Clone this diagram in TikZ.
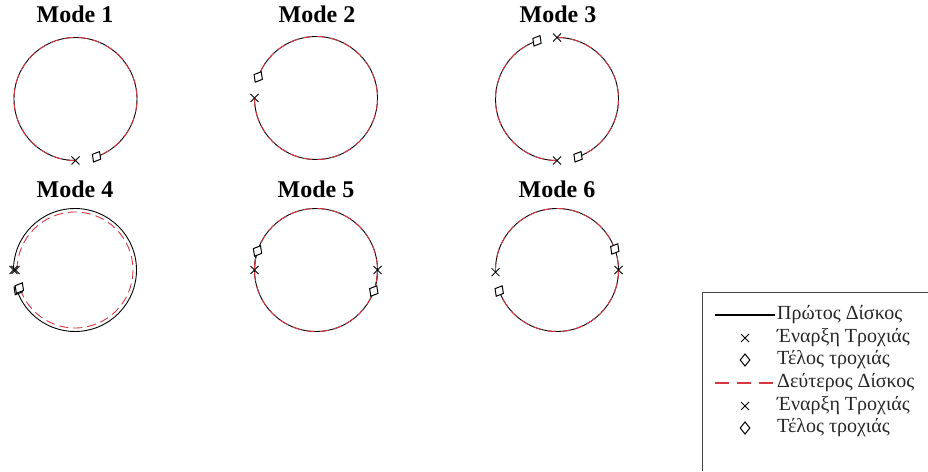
\documentclass[tikz,border=0pt]{standalone}
\usepackage{fontspec}
\setmainfont{Liberation Serif}
\usetikzlibrary{calc}
\definecolor{discred}{RGB}{215,55,65}
\definecolor{boxgray}{RGB}{70,70,70}
\tikzset{
  disk1/.style={black, line width=0.9pt},
  disk2/.style={discred, line width=0.9pt, dash pattern=on 9pt off 5pt},
  title/.style={font=\fontsize{24}{26}\selectfont\bfseries, anchor=base, inner sep=0pt},
  legtext/.style={font=\fontsize{20}{22}\selectfont, anchor=west, inner sep=0pt, text=black!85},
  xmark/.pic={\draw[black, line width=0.8pt] (-4,-4)--(4,4) (-4,4)--(4,-4);},
  dmark/.pic={\draw[black, line width=1pt, fill=white] (0,-6)--(4.8,0)--(0,6)--(-4.8,0)--cycle;}
}
\begin{document}
\begin{tikzpicture}[x=1pt,y=1pt]
\useasboundingbox (0,0) rectangle (928,471);
\def\R{61.5}
% centres
\coordinate (c1) at (75.5,372);
\coordinate (c2) at (316,373);
\coordinate (c3) at (557,372);
\coordinate (c4) at (75,201);
\coordinate (c5) at (316,201);
\coordinate (c6) at (557,201);
% titles
\node[title] (t1) at (75,448) {Mode 1};
\node[title] (t2) at (317,448) {Mode 2};
\node[title] (t3) at (558,448) {Mode 3};
\node[title] (t4) at (75,273) {Mode 4};
\node[title] (t5) at (316,273) {Mode 5};
\node[title] (t6) at (557,273) {Mode 6};
% Mode 1
\foreach \s in {disk1,disk2}
  \draw[\s] ($(c1)+(270:\R)$) arc[start angle=270, end angle=-70, radius=\R];
\pic at ($(c1)+(270:\R)$) {xmark};
\pic[rotate=-30] at ($(c1)+(-70:\R)$) {dmark};
% Mode 2
\foreach \s in {disk1,disk2}
  \draw[\s] ($(c2)+(180:\R)$) arc[start angle=180, end angle=520, radius=\R];
\pic at ($(c2)+(180:\R)$) {xmark};
\pic[rotate=-30] at ($(c2)+(160:\R)$) {dmark};
% Mode 3
\foreach \s in {disk1,disk2}{
  \draw[\s] ($(c3)+(90:\R)$) arc[start angle=90, end angle=-70, radius=\R];
  \draw[\s] ($(c3)+(270:\R)$) arc[start angle=270, end angle=109, radius=\R];
}
\pic at ($(c3)+(90:\R)$) {xmark};
\pic at ($(c3)+(270:\R)$) {xmark};
\pic[rotate=-30] at ($(c3)+(109:\R)$) {dmark};
\pic[rotate=-30] at ($(c3)+(-70:\R)$) {dmark};
% Mode 4
\draw[disk1] ($(c4)+(180:\R)$) arc[start angle=180, end angle=-161, radius=\R];
\draw[disk2] ($(c4)+(180:58)$) arc[start angle=180, end angle=-161, radius=58];
\pic at ($(c4)+(180:\R)$) {xmark};
\pic at ($(c4)+(180:59.5)$) {xmark};
\pic[rotate=-30] at ($(c4)+(199:60)$) {dmark};
\pic[rotate=-30] at ($(c4)+(198:58.5)$) {dmark};
% Mode 5
\foreach \s in {disk1,disk2}{
  \draw[\s] ($(c5)+(180:\R)$) arc[start angle=180, end angle=-20, radius=\R];
  \draw[\s] ($(c5)+(0:\R)$) arc[start angle=0, end angle=-198, radius=\R];
}
\pic at ($(c5)+(180:\R)$) {xmark};
\pic at ($(c5)+(0:\R)$) {xmark};
\pic[rotate=-30] at ($(c5)+(162:\R)$) {dmark};
\pic[rotate=-30] at ($(c5)+(-20:\R)$) {dmark};
% Mode 6
\foreach \s in {disk1,disk2}{
  \draw[\s] ($(c6)+(182:\R)$) arc[start angle=182, end angle=0, radius=\R];
  \draw[\s] ($(c6)+(0:\R)$) arc[start angle=0, end angle=-160, radius=\R];
}
\pic at ($(c6)+(182:\R)$) {xmark};
\pic at ($(c6)+(0:\R)$) {xmark};
\pic[rotate=-30] at ($(c6)+(200:\R)$) {dmark};
\pic[rotate=-30] at ($(c6)+(20:\R)$) {dmark};
% legend box
\coordinate (bx1) at (928,178);
\coordinate (bx2) at (702.5,178);
\coordinate (bx3) at (702.5,0);
\draw[boxgray, line width=1pt] (bx1) -- (bx2) -- (bx3);
% legend entries
\coordinate (l1a) at (715,156); \coordinate (l1b) at (775,156);
\draw[disk1, line width=1.2pt] (l1a) -- (l1b);
\node[legtext] (e1) at (777,156) {Πρώτος Δίσκος};
\pic at (745,133) {xmark};
\node[legtext] (e2) at (777,133) {Έναρξη Τροχιάς};
\pic at (745,111) {dmark};
\node[legtext] (e3) at (777,111) {Τέλος τροχιάς};
\coordinate (l4a) at (715,88); \coordinate (l4b) at (775,88);
\draw[disk2, line width=1.3pt, dash pattern=on 14pt off 8pt] (l4a) -- (l4b);
\node[legtext] (e4) at (777,88) {Δεύτερος Δίσκος};
\pic at (745,65) {xmark};
\node[legtext] (e5) at (777,65) {Έναρξη Τροχιάς};
\pic at (745,43) {dmark};
\node[legtext] (e6) at (777,43) {Τέλος τροχιάς};
\end{tikzpicture}
\end{document}
